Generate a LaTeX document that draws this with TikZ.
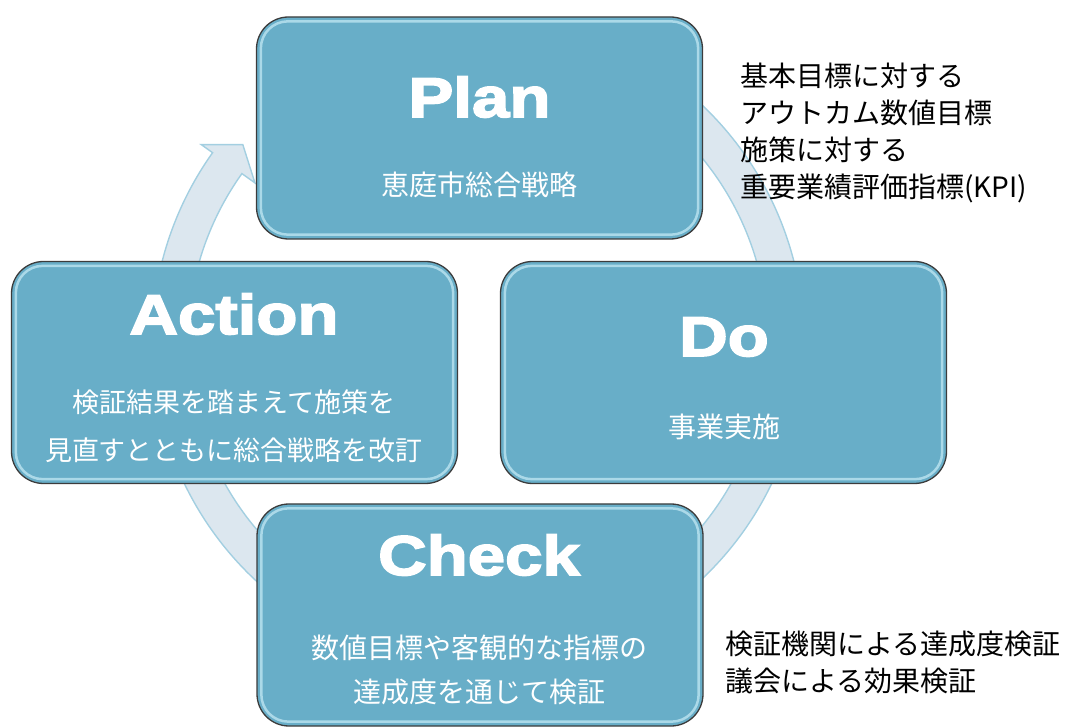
\documentclass[tikz,border=0pt]{standalone}
\usepackage{fontspec}
\setmainfont{Noto Sans CJK JP}
\newfontfamily\titlefont[FakeBold=3,FakeStretch=1.2]{Liberation Sans Bold}
\usetikzlibrary{positioning}

\definecolor{boxblue}{HTML}{68AEC8}
\definecolor{boxedge}{HTML}{3C3C3C}
\definecolor{bevelhi}{HTML}{BCE4F1}
\definecolor{ringfill}{HTML}{DCE7EF}
\definecolor{ringline}{HTML}{A3CFE1}

\begin{document}
\begin{tikzpicture}[x=1pt, y=1pt]
\tikzstyle{box}=[draw=boxedge, line width=1.3pt, fill=boxblue, rounded corners=32pt, minimum width=446pt, minimum height=222pt]
\tikzstyle{bevel}=[draw=bevelhi, line width=2.5pt, rounded corners=27pt, opacity=0.8]
\tikzstyle{title}=[text=white, font=\titlefont\fontsize{56}{60}\selectfont]
\tikzstyle{desc}=[text=white, align=center, font=\fontsize{28}{44}\selectfont]
\tikzstyle{note}=[anchor=north west, align=left, inner sep=0pt, font=\fontsize{28}{37}\selectfont]
\tikzstyle{ring}=[fill=ringfill, draw=ringline, line width=1.4pt]

\useasboundingbox (0,0) rectangle (1071,726);

% cycle arrow behind the boxes
\draw[ring, shift={(478,384)}] (70:326) arc[start angle=70, end angle=-215.5, radius=326]
  -- (-215.5:340) -- (-220:307) -- (-215.5:274) -- (-215.5:290)
  arc[start angle=-215.5, end angle=70, radius=290] -- cycle;

\node[box] (plan) at (479.5,598) {};
\node[box] (action) at (234.5,353.5) {};
\node[box] (do) at (723.5,353.5) {};
\node[box] (check) at (480,111) {};
\foreach \n in {plan,action,do,check}
  \draw[bevel] ([shift={(5,-5)}]\n.north west) rectangle ([shift={(-5,5)}]\n.south east);

\node[title] (plan-t) at (479.5,629) {Plan};
\node[desc] (plan-d) at (479.5,541) {恵庭市総合戦略};
\node[title] (action-t) at (234,412) {Action};
\node[desc, font=\fontsize{27}{48}\selectfont] (action-d) at (234,300) {検証結果を踏まえて施策を\\見直すとともに総合戦略を改訂};
\node[title] (do-t) at (724,389) {Do};
\node[desc] (do-d) at (724,299) {事業実施};
\node[title] (check-t) at (479,171) {Check};
\node[desc] (check-d) at (479,56) {数値目標や客観的な指標の\\達成度を通じて検証};

\node[note] (plan-n) at (740,663) {基本目標に対する\\アウトカム数値目標\\施策に対する\\重要業績評価指標(KPI)};
\node[note] (check-n) at (725,95) {検証機関による達成度検証\\議会による効果検証};
\end{tikzpicture}
\end{document}
